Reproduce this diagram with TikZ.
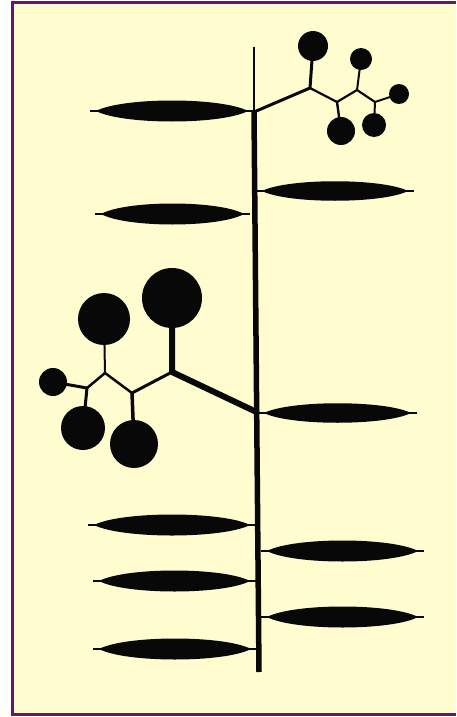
\documentclass[tikz,border=0pt]{standalone}
\definecolor{paper}{RGB}{255,253,208}
\definecolor{framecol}{RGB}{104,22,106}
\definecolor{ink}{RGB}{8,8,8}
\tikzset{
  twig/.style={draw=ink, line cap=round, line join=round},
  berry/.style={fill=ink},
}
% lens-shaped leaf: #1 = left end x, #2 = right end x, #3 = y, #4 = bulge
\newcommand\drawleaf[4]{%
  \fill[ink] ({#1+6},#3) .. controls ({#1+0.2*(#2-#1)},{#3-#4}) and ({#2-0.2*(#2-#1)},{#3-#4}) .. ({#2-6},#3)
     .. controls ({#2-0.2*(#2-#1)},{#3+#4}) and ({#1+0.2*(#2-#1)},{#3+#4}) .. cycle;
  \draw[ink,line width=2.4] (#1,#3) -- (#2,#3);}
\begin{document}
\begin{tikzpicture}[x=1pt,y=-1pt]
\useasboundingbox (0,0) rectangle (456,717);
% page and frame (open on the right)
\fill[white] (0,0) rectangle (456,717);
\fill[paper] (11,1) rectangle (456,716);
\draw[framecol,line width=3.5] (456,2.5) -- (12.5,2.5) -- (12.5,714.5) -- (456,714.5);

% main stem
\coordinate (stemtop) at (254,47);
\coordinate (tj) at (254,112);
\coordinate (lj) at (256.5,412);
\coordinate (stembot) at (259,672);
\draw[ink,line width=1.6] (stemtop) -- (tj);
\draw[ink,line width=5.5] (tj) -- (stembot);

% leaves on the left
\drawleaf{90}{254}{111}{14}
\drawleaf{95}{250}{214}{14}
\drawleaf{88}{256}{525}{14}
\drawleaf{93}{256}{581}{14}
\drawleaf{93}{257}{649}{14}
% leaves on the right
\drawleaf{256}{414}{191}{13}
\drawleaf{258}{417}{413}{13}
\drawleaf{261}{424}{551}{14}
\drawleaf{261}{424}{617}{14}

% upper fruit cluster
\coordinate (ta) at (310,88);
\coordinate (tb) at (337,102);
\coordinate (tc) at (357,90);
\coordinate (td) at (375,102);
\coordinate (t1) at (313,46);
\coordinate (t2) at (341,131);
\coordinate (t3) at (361,59);
\coordinate (t4) at (374,125);
\coordinate (t5) at (399,94);
\draw[twig,line width=3] (tj) -- (ta) -- (t1);
\draw[twig,line width=2.2] (ta) -- (tb) -- (tc) -- (td);
\draw[twig,line width=2.4] (tb) -- (t2);
\draw[twig,line width=2] (tc) -- (t3);
\draw[twig,line width=2] (td) -- (t4);
\draw[twig,line width=2] (td) -- (t5);
\fill[berry] (t1) circle (15);
\fill[berry] (t2) circle (14);
\fill[berry] (t3) circle (11);
\fill[berry] (t4) circle (12);
\fill[berry] (t5) circle (10);

% lower fruit cluster
\coordinate (le) at (172,372);
\coordinate (lf) at (132,393);
\coordinate (lg) at (105,373);
\coordinate (lh) at (87,388);
\coordinate (l1) at (172,298);
\coordinate (l2) at (134,444);
\coordinate (l3) at (104,319);
\coordinate (l4) at (83,428);
\coordinate (l5) at (53,382);
\draw[twig,line width=6] (lj) -- (le) -- (l1);
\draw[twig,line width=3] (le) -- (lf);
\draw[twig,line width=3.5] (lf) -- (l2);
\draw[twig,line width=2.5] (lf) -- (lg) -- (lh);
\draw[twig,line width=2] (lg) -- (l3);
\draw[twig,line width=3] (lh) -- (l4);
\draw[twig,line width=3] (lh) -- (l5);
\fill[berry] (l1) circle (30);
\fill[berry] (l2) circle (24);
\fill[berry] (l3) circle (26);
\fill[berry] (l4) circle (22);
\fill[berry] (l5) circle (14);
\end{tikzpicture}
\end{document}
